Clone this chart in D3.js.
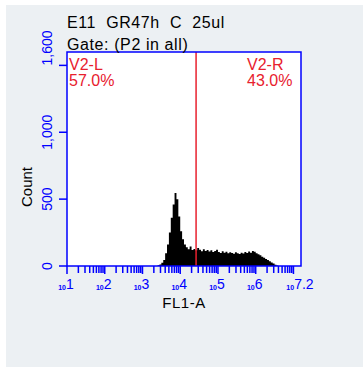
<!DOCTYPE html>
<html>
<head>
<meta charset="utf-8">
<script src="https://cdn.jsdelivr.net/npm/d3@7"></script>
<style>
  body { margin: 0; background: #fff; }
  text { font-family: "Liberation Sans", Arial, sans-serif; }
</style>
</head>
<body>
<script>
    //Width and height
    var width = 363;
    var height = 367;

    //histogram: bin start (log10 of FL1-A) and count
    var binStart = [3.40,3.45,3.50,3.55,3.60,3.65,3.70,3.75,3.80,3.85,3.90,3.95,4.00,4.05,4.10,4.15,4.20,4.25,4.30,4.35,
                    4.40,4.45,4.50,4.55,4.60,4.65,4.70,4.75,4.80,4.85,4.90,4.95,5.00,5.05,5.10,5.15,5.20,5.25,5.30,5.35,
                    5.40,5.45,5.50,5.55,5.60,5.65,5.70,5.75,5.80,5.85,5.90,5.95,6.00,6.05,6.10,6.15,6.20,6.25,6.30,6.35,
                    6.40,6.45,6.50,6.55];
    var counts = [5,12,25,45,95,160,250,360,460,545,500,370,260,200,160,140,125,145,120,128,
                  118,135,122,110,125,112,120,108,118,104,112,122,105,98,110,100,106,95,103,98,
                  92,102,96,90,100,94,104,98,108,100,112,106,95,88,80,70,62,52,44,35,
                  26,18,10,4];
    var binEnd = 6.60;

    //axis ticks and labels
    var xDecades = [1,2,3,4,5,6,7];
    var xLabelPos = [1,2,3,4,5,6,7.2];
    var xLabelExp = ["1","2","3","4","5","6","7.2"];
    var yTicks = [0,500,1000,1500];
    var yLabelVals = [0,500,1000,1600];
    var yLabels = ["0","500","1,000","1,600"];

    //gate
    var gateX = 4.42;
    var gateNames = ["V2-L","V2-R"];
    var gatePct = ["57.0%","43.0%"];

    var titleLines = ["E11  GR47h  C  25ul", "Gate: (P2 in all)"];

    var blue = "#0000ff";
    var red = "#e8202e";

    var svg = d3.select("body").append("svg")
        .attr("width", width)
        .attr("height", height);

    //grey panel
    svg.append("rect")
       .attr("x", 6).attr("y", 5)
       .attr("width", width - 6).attr("height", height - 5)
       .style("fill", "#ecf0f3");

    //plot box (named so they don't clash with window.top)
    var pLeft = 67, pRight = 301, pTop = 52, pBottom = 266;

    var x = d3.scaleLinear().domain([1, 7.2]).range([pLeft, pRight]);
    var y = d3.scaleLinear().domain([0, 1600]).range([pBottom, pTop]);

    //plot background
    svg.append("rect")
       .attr("x", pLeft).attr("y", pTop)
       .attr("width", pRight - pLeft).attr("height", pBottom - pTop)
       .style("fill", "white");

    //histogram as step area
    var pts = binStart.map(function(b, i) { return [b, counts[i]]; });
    pts.push([binEnd, 0]);
    var area = d3.area()
        .curve(d3.curveStepAfter)
        .x(function(d) { return x(d[0]); })
        .y0(pBottom)
        .y1(function(d) { return y(d[1]); });
    svg.append("path")
       .datum([[binStart[0], 0]].concat(pts))
       .attr("d", area)
       .style("fill", "black");

    //gate line
    svg.append("line")
       .attr("x1", x(gateX)).attr("x2", x(gateX))
       .attr("y1", pTop).attr("y2", pBottom)
       .attr("stroke", red).attr("stroke-width", 1.5);

    //frame
    svg.append("rect")
       .attr("x", pLeft).attr("y", pTop)
       .attr("width", pRight - pLeft).attr("height", pBottom - pTop)
       .style("fill", "none")
       .attr("stroke", blue).attr("stroke-width", 1.5);

    //x ticks: decades plus 2..9 minors
    var xTickVals = [];
    xDecades.forEach(function(k) {
        for (var m = 1; m <= 9; m++) {
            var v = k + Math.log10(m);
            if (v <= 7.2) xTickVals.push(v);
        }
    });
    svg.selectAll(".xt").data(xTickVals).enter().append("line")
       .attr("x1", function(d) { return x(d); })
       .attr("x2", function(d) { return x(d); })
       .attr("y1", pBottom)
       .attr("y2", function(d) { return Number.isInteger(d) ? pBottom + 8 : pBottom + 7; })
       .attr("stroke", blue).attr("stroke-width", 1.5);

    //x tick labels, 10 with exponent
    var xl = svg.selectAll(".xl").data(xLabelPos).enter().append("text")
       .attr("x", function(d) { return x(d) - 1; })
       .attr("y", 289)
       .style("text-anchor", "middle")
       .style("fill", blue);
    xl.append("tspan")
      .attr("font-size", "7px").attr("font-weight", "bold")
      .attr("dy", 1)
      .text("10");
    xl.append("tspan")
      .attr("font-size", "14px")
      .attr("dy", -1)
      .text(function(d, i) { return xLabelExp[i]; });

    //y ticks
    svg.selectAll(".yt").data(yTicks).enter().append("line")
       .attr("x1", pLeft - 8).attr("x2", pLeft)
       .attr("y1", function(d) { return y(d); })
       .attr("y2", function(d) { return y(d); })
       .attr("stroke", blue).attr("stroke-width", 1.5);

    svg.selectAll(".yl").data(yLabelVals).enter().append("text")
       .attr("transform", function(d) { return "translate(52," + (y(d) - (d === 1600 ? 4 : 0)) + ") rotate(-90)"; })
       .style("text-anchor", "middle")
       .attr("font-size", "14px")
       .style("fill", blue)
       .text(function(d, i) { return yLabels[i]; });

    //axis titles
    svg.append("text")
       .attr("transform", "translate(32,187) rotate(-90)")
       .style("text-anchor", "middle")
       .attr("font-size", "15px")
       .style("fill", "black")
       .text("Count");

    svg.append("text")
       .attr("x", 184).attr("y", 308)
       .style("text-anchor", "middle")
       .attr("font-size", "15px")
       .style("letter-spacing", "0.5px")
       .style("fill", "black")
       .text("FL1-A");

    //title
    svg.selectAll(".title").data(titleLines).enter().append("text")
       .attr("x", 67)
       .attr("y", function(d, i) { return 28 + i * 22; })
       .attr("font-size", "16px")
       .style("letter-spacing", "0.6px")
       .style("white-space", "pre")
       .style("fill", "black")
       .text(function(d) { return d; });

    //gate labels
    var gx = [69, 247];
    gateNames.forEach(function(n, i) {
        svg.append("text").attr("x", gx[i]).attr("y", 70)
           .attr("font-size", "16px").style("fill", red).text(n);
        svg.append("text").attr("x", gx[i]).attr("y", 86)
           .attr("font-size", "16px").style("fill", red).text(gatePct[i]);
    });
</script>
</body>
</html>
